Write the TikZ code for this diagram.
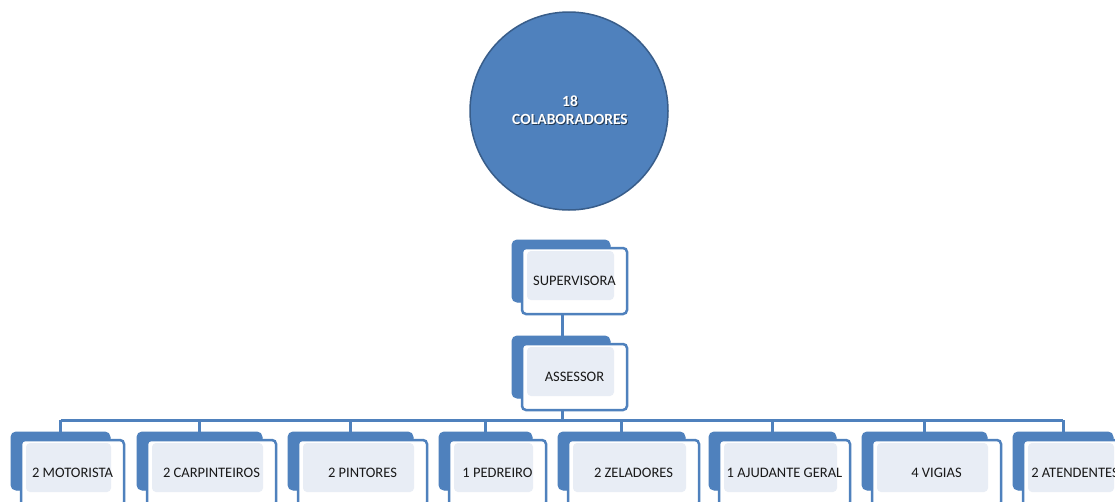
\documentclass[tikz,border=0pt]{standalone}
\usepackage{fontspec}
\setmainfont{Carlito}
\usetikzlibrary{calc}
\definecolor{obl}{HTML}{4F81BD}
\definecolor{obd}{HTML}{385D8A}
\definecolor{olt}{HTML}{E8EDF5}
\tikzset{
  backbox/.style={fill=obl, draw=obl, line width=1pt, rounded corners=5pt, inner sep=0pt, outer sep=0pt},
  frontbox/.style={fill=white, draw=obl, line width=2.5pt, rounded corners=4pt, inner sep=0pt, outer sep=0pt,
     font=\fontsize{14.5}{16}\selectfont, text=black!90,
     path picture={\fill[olt] ([xshift=5pt,yshift=-3pt]path picture bounding box.north west) rectangle ([xshift=-13pt,yshift=14pt]path picture bounding box.south east);}},
  conn/.style={draw=obl, line width=3pt},
}
% #1 name, #2 back left, #3 back top, #4 back width, #5 back height, #6 front width, #7 front height, #8 text
\newcommand\orgbox[8]{%
  \node[backbox, minimum width=#4pt, minimum height=#5pt] (#1b) at ({#2+#4/2},{#3+#5/2}) {};
  \node[frontbox, minimum width=#6pt, minimum height=#7pt] (#1) at ({#2+10+#6/2},{#3+8+#7/2}) {#8};
}
\begin{document}
\begin{tikzpicture}[x=1pt,y=-1pt]
\useasboundingbox (0,0) rectangle (1115,501);
\clip (0,0) rectangle (1115,501);
\fill[white] (0,0) rectangle (1115,501);
% circle
\node[circle, fill=obl, draw=obd, line width=1.5pt, minimum size=198pt, inner sep=0pt] (circ) at (569,111) {};
\node[text=black, opacity=0.55, font=\bfseries\fontsize{15.5}{18}\selectfont, align=center] (cshadow) at (571,111) {18\\COLABORADORES};
\node[text=white, font=\bfseries\fontsize{15.5}{18}\selectfont, align=center] (ctext) at (570,110) {18\\COLABORADORES};
% connector coordinates
\coordinate (bus) at (0,420);
% connectors (behind boxes)
\coordinate (supc) at (562,271);
\coordinate (assc) at (562,367);
\draw[conn] (supc) -- (assc);
\draw[conn] (assc) -- (assc |- bus);
\foreach \cx in {60.5,199.5,350.5,485.5,621.5,772.5,924.5,1063}{
  \draw[conn] (\cx,420) -- (\cx,440);
}
\draw[conn] (60.5,420) -- (1063,420);
% top boxes
\orgbox{sup}{512}{240}{98}{62}{105}{66}{SUPERVISORA}
\orgbox{ass}{512}{336}{98}{62}{105}{66}{ASSESSOR}
% children
\orgbox{c1}{11}{432}{99}{58}{103}{66}{2 MOTORISTA}
\orgbox{c2}{137}{432}{125}{58}{129}{66}{2 CARPINTEIROS}
\orgbox{c3}{288}{432}{125}{58}{129}{66}{2 PINTORES}
\orgbox{c4}{439}{432}{93}{58}{97}{66}{1 PEDREIRO}
\orgbox{c5}{558}{432}{127}{58}{131}{66}{2 ZELADORES}
\orgbox{c6}{709}{432}{127}{58}{131}{66}{1 AJUDANTE GERAL}
\orgbox{c7}{862}{432}{125}{58}{129}{66}{4 VIGIAS}
\orgbox{c8}{1013}{432}{100}{58}{104}{66}{2 ATENDENTES}
\end{tikzpicture}
\end{document}
